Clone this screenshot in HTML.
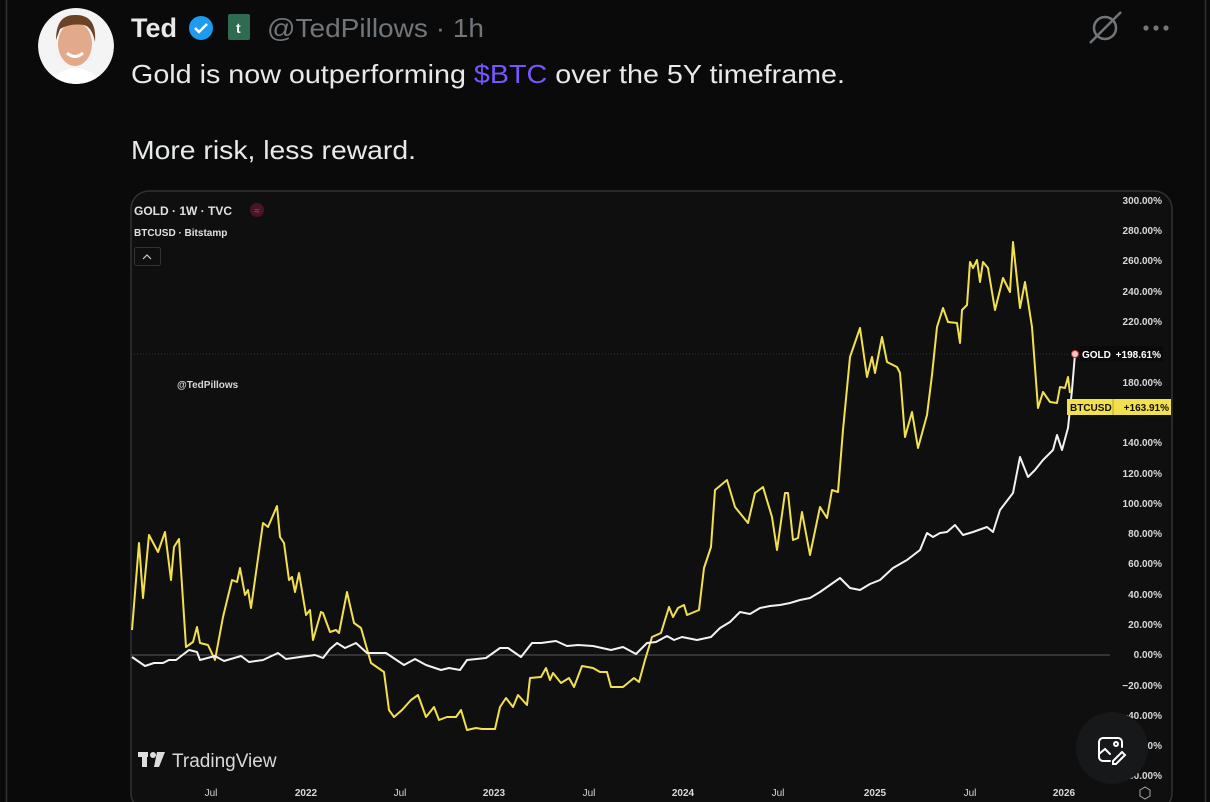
<!DOCTYPE html>
<html><head><meta charset="utf-8"><style>
html,body{margin:0;padding:0;background:#0a0a0a;width:1210px;height:802px;overflow:hidden;font-family:"Liberation Sans","DejaVu Sans",sans-serif;}
</style></head><body>
<svg width="1210" height="802" viewBox="0 0 1210 802" xmlns="http://www.w3.org/2000/svg" style="position:absolute;left:0;top:0">
<defs><clipPath id="av"><circle cx="76" cy="46" r="38"/></clipPath></defs>
<rect width="1210" height="802" fill="#0a0a0a"/>
<line x1="6.5" y1="0" x2="6.5" y2="802" stroke="#2f3336" stroke-width="1.5"/>
<line x1="1205.5" y1="0" x2="1205.5" y2="802" stroke="#2f3336" stroke-width="1.5"/>
<g clip-path="url(#av)">
<circle cx="76" cy="46" r="38" fill="#f4f4f4"/>
<ellipse cx="75" cy="44" rx="17" ry="22" fill="#e2a98a"/>
<path d="M56 40 Q56 14 76 15 Q97 15 95 42 Q92 27 84 25 Q70 23 60 29 Z" fill="#6b4226"/>
<path d="M67 53 Q75 60 83 53" stroke="#fff" stroke-width="3" fill="none"/>
<path d="M48 90 Q58 68 75 68 Q94 68 104 90 Z" fill="#ffffff"/>
</g>
<text x="131" y="37" fill="#e7e9ea" font-size="27" font-weight="bold">Ted</text>
<circle cx="201" cy="28" r="12" fill="#1d9bf0"/>
<path d="M195 28 l4 4 l8 -8" stroke="#fff" stroke-width="2.5" fill="none"/>
<rect x="228" y="14" width="22" height="26" rx="2" fill="#2f6b50"/>
<text x="236" y="33" fill="#fff" font-size="14" font-weight="bold">t</text>
<text x="267" y="37" fill="#71767b" font-size="26" textLength="217" lengthAdjust="spacingAndGlyphs">@TedPillows · 1h</text>
<g stroke="#71767b" stroke-width="2.5" fill="none"><circle cx="1105" cy="28" r="11"/><line x1="1090" y1="43" x2="1121" y2="12"/></g>
<circle cx="1146" cy="28" r="2.6" fill="#71767b"/><circle cx="1156" cy="28" r="2.6" fill="#71767b"/><circle cx="1166" cy="28" r="2.6" fill="#71767b"/>
<text x="131" y="83" fill="#e7e9ea" font-size="26" textLength="714" lengthAdjust="spacingAndGlyphs">Gold is now outperforming <tspan fill="#7856ff">$BTC</tspan> over the 5Y timeframe.</text>
<text x="131" y="159" fill="#e7e9ea" font-size="26" textLength="285" lengthAdjust="spacingAndGlyphs">More risk, less reward.</text>
<rect x="131" y="191" width="1041" height="620" rx="18" fill="#0f0f0f" stroke="#2f3336" stroke-width="1.5"/>
<line x1="131" y1="655" x2="1110" y2="655" stroke="#5a5a5a" stroke-width="1"/>
<line x1="131" y1="354" x2="1070" y2="354" stroke="#333" stroke-width="1" stroke-dasharray="1,2"/>
<g fill="#d8d8d8" font-size="10" text-anchor="end" font-weight="bold">
<text x="1162" y="204">300.00%</text><text x="1162" y="234">280.00%</text><text x="1162" y="264">260.00%</text><text x="1162" y="295">240.00%</text><text x="1162" y="325">220.00%</text><text x="1162" y="386">180.00%</text><text x="1162" y="446">140.00%</text><text x="1162" y="477">120.00%</text><text x="1162" y="507">100.00%</text><text x="1162" y="537">80.00%</text><text x="1162" y="567">60.00%</text><text x="1162" y="598">40.00%</text><text x="1162" y="628">20.00%</text><text x="1162" y="658">0.00%</text><text x="1162" y="689">−20.00%</text><text x="1162" y="719">−40.00%</text><text x="1162" y="749">−60.00%</text><text x="1162" y="779">−80.00%</text>
</g>
<g fill="#d8d8d8" font-size="10" text-anchor="middle">
<text x="211" y="796">Jul</text><text x="306" y="796" font-weight="bold">2022</text><text x="400" y="796">Jul</text><text x="494" y="796" font-weight="bold">2023</text><text x="589" y="796">Jul</text><text x="683" y="796" font-weight="bold">2024</text><text x="778" y="796">Jul</text><text x="875" y="796" font-weight="bold">2025</text><text x="970" y="796">Jul</text><text x="1064" y="796" font-weight="bold">2026</text>
</g>
<polygon points="1140,790 1145,787 1150,790 1150,796 1145,799 1140,796" fill="none" stroke="#aaa" stroke-width="1"/>
<text x="134" y="215" fill="#e0e0e0" font-size="12" font-weight="bold">GOLD · 1W · TVC</text>
<circle cx="257" cy="210" r="7" fill="#4a1428"/><text x="257" y="214" fill="#e0306a" font-size="10" text-anchor="middle">≈</text>
<text x="134" y="236" fill="#e0e0e0" font-size="10" font-weight="bold">BTCUSD · Bitstamp</text>
<rect x="134.5" y="247.5" width="26" height="18" rx="2" fill="none" stroke="#333"/>
<path d="M143 259 l4 -4 l4 4" stroke="#ccc" stroke-width="1.2" fill="none"/>
<text x="177" y="388" fill="#d8d8d8" font-size="10" font-weight="bold">@TedPillows</text>
<polyline fill="none" stroke="#f2e04c" stroke-width="2" stroke-linejoin="round" points="132,630 139,543 143,598 149,535 158,552 165,532 171,580 174,547 179,539 186,647 193,642 197,627 200,643 208,645 215,660 223,617 232,580 237,582 240,568 245,595 248,590 251,608 263,523 268,527 277,506 280,537 284,543 289,580 292,577 295,592 299,573 306,615 310,610 313,640 321,612 323,613 330,632 336,630 339,633 347,592 354,623 361,628 371,663 384,672 389,710 394,717 402,710 411,700 418,695 426,717 434,707 439,720 447,717 456,717 461,710 467,730 476,728 482,729 495,729 500,707 506,698 513,707 518,695 527,705 530,678 541,677 546,668 550,680 553,673 561,683 569,678 574,687 582,666 593,668 600,672 607,672 611,687 623,687 634,678 639,682 645,660 652,637 661,633 669,607 673,617 678,608 684,605 687,615 699,610 704,568 711,547 715,490 727,480 735,507 748,523 755,493 763,487 772,517 777,550 785,493 788,493 793,540 798,538 802,512 810,555 820,507 827,518 832,490 838,492 843,430 850,357 860,328 867,377 872,357 875,373 882,337 887,362 897,367 900,373 905,437 912,412 918,448 927,415 932,375 937,327 943,308 948,322 957,323 960,343 962,310 967,305 970,262 973,268 977,260 980,282 983,262 988,268 995,310 1003,278 1010,292 1013,242 1020,308 1025,282 1032,327 1038,408 1043,392 1050,402 1057,403 1060,387 1065,388 1068,377 1070,393"/>
<polyline fill="none" stroke="#f2f2f2" stroke-width="2" stroke-linejoin="round" points="132,657 145,666 154,663 163,663 169,660 176,660 189,650 197,652 200,660 215,656 224,661 241,656 249,662 263,660 278,653 286,659 300,657 315,655 323,658 330,649 337,643 345,648 356,643 367,653 386,653 404,665 415,659 426,665 441,670 449,668 460,670 467,660 486,658 500,648 508,648 521,657 532,643 541,643 556,641 567,646 578,645 593,646 611,650 623,647 636,654 647,643 656,642 667,636 674,640 682,637 697,640 711,637 720,628 730,622 740,612 750,614 760,608 770,606 780,605 790,603 800,600 810,598 820,592 830,585 840,578 850,588 860,590 870,584 880,580 893,568 907,560 920,550 927,533 933,537 940,533 947,532 955,525 963,535 973,532 987,527 993,532 1000,510 1013,493 1020,457 1028,477 1035,470 1043,460 1053,450 1057,435 1062,450 1068,428 1072,390 1075,354"/>
<circle cx="1075" cy="354" r="3.5" fill="#f6c8c8" stroke="#c33" stroke-width="1"/>
<rect x="1080" y="346" width="83" height="16" fill="#0a0a0a"/>
<text x="1082" y="358" fill="#fff" font-size="10" font-weight="bold">GOLD</text><text x="1161" y="358" fill="#fff" font-size="10" text-anchor="end" font-weight="bold">+198.61%</text>
<rect x="1067" y="399" width="104" height="16" fill="#f2e04c"/>
<line x1="1113" y1="399" x2="1113" y2="415" stroke="#b8a830"/>
<text x="1070" y="411" fill="#111" font-size="10" font-weight="bold">BTCUSD</text><text x="1169" y="411" fill="#111" font-size="10" text-anchor="end" font-weight="bold">+163.91%</text>
<rect x="138" y="752" width="10" height="5" fill="#ddd"/><rect x="142" y="752" width="5" height="15" fill="#ddd"/><circle cx="153" cy="755" r="3" fill="#ddd"/><path d="M157 752 h8 l-6 15 h-5 z" fill="#ddd"/>
<text x="172" y="767" fill="#d8d8d8" font-size="19">TradingView</text>
<circle cx="1112" cy="748" r="36" fill="#16181a"/>
<g stroke="#fff" stroke-width="2" fill="none" stroke-linecap="round"><path d="M1110 761 h-7 a4 4 0 0 1 -4 -4 v-15 a4 4 0 0 1 4 -4 h15 a4 4 0 0 1 4 4 v5"/><path d="M1099 754 l6 -5 l5 5"/><circle cx="1116" cy="744" r="2"/><path d="M1113 761 l9 -9 l3 3 l-9 9 h-3 z"/></g>
</svg>
</body></html>
